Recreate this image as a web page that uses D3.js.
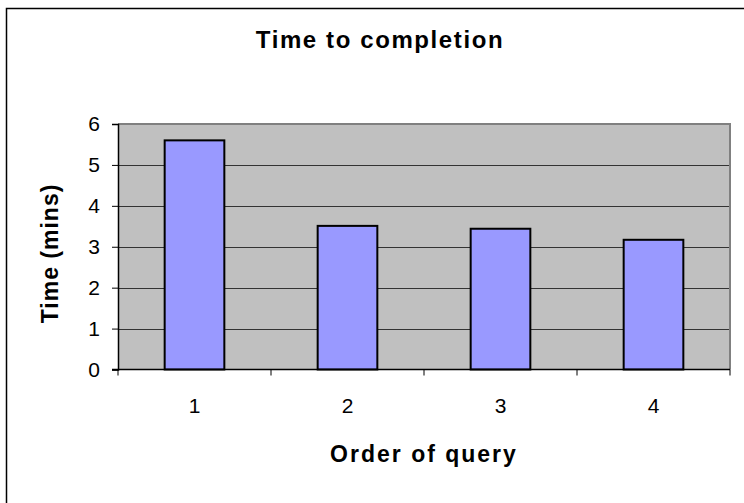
<!DOCTYPE html>
<html>
<head>
<meta charset="utf-8">
<script src="https://cdn.jsdelivr.net/npm/d3@7"></script>
<style>
  html, body { margin: 0; padding: 0; background: #fff; }
  svg { display: block; font-family: "Liberation Sans", Arial, sans-serif; }
</style>
</head>
<body>
<svg id="chart" width="744" height="503"></svg>
<script>
const categories = ["1", "2", "3", "4"];
const values = [5.6, 3.51, 3.44, 3.17];
const yTicks = [0, 1, 2, 3, 4, 5, 6];
const titleText = "Time to completion";
const xTitle = "Order of query";
const yTitle = "Time (mins)";

const svg = d3.select("#chart");
const W = 744, H = 503;
const plot = { left: 118, right: 730, top: 124, bottom: 369.5 };

// outer chart border (extends past right/bottom edge)
svg.append("rect")
  .attr("x", 6.5).attr("y", 8.5)
  .attr("width", W + 10).attr("height", H + 10)
  .attr("fill", "#fff").attr("stroke", "#000").attr("stroke-width", 1.5);

const x = d3.scaleBand().domain(categories)
  .range([plot.left, plot.right]).paddingInner(0.61).paddingOuter(0.305);
const y = d3.scaleLinear().domain([0, 6]).range([plot.bottom, plot.top]);

// plot background
svg.append("rect")
  .attr("x", plot.left).attr("y", plot.top)
  .attr("width", plot.right - plot.left).attr("height", plot.bottom - plot.top)
  .attr("fill", "#C0C0C0");

// gridlines
svg.append("g").selectAll("line").data(yTicks.filter(d => d > 0 && d < 6)).join("line")
  .attr("x1", plot.left).attr("x2", plot.right)
  .attr("y1", d => Math.round(y(d)) + 0.5).attr("y2", d => Math.round(y(d)) + 0.5)
  .attr("stroke", "#333").attr("stroke-width", 1);

// plot border top/right (gray)
svg.append("path")
  .attr("d", `M${plot.left},${plot.top} H${plot.right} V${plot.bottom}`)
  .attr("fill", "none").attr("stroke", "#808080").attr("stroke-width", 2);

// bars
svg.append("g").selectAll("rect").data(values).join("rect")
  .attr("x", (d, i) => x(categories[i]))
  .attr("y", d => y(d))
  .attr("width", x.bandwidth())
  .attr("height", d => y(0) - y(d))
  .attr("fill", "#9999FF")
  .attr("stroke", "#000").attr("stroke-width", 2);

// y axis
const yAxis = d3.axisLeft(y).tickValues(yTicks).tickSize(6).tickPadding(12).tickFormat(d3.format("d"));
const gy = svg.append("g").attr("transform", `translate(${plot.left},0)`).call(yAxis);
gy.select(".domain").attr("stroke", "#000").attr("stroke-width", 1.5);
gy.selectAll(".tick line").attr("stroke", "#000");
gy.selectAll(".tick text").attr("font-size", 21).attr("fill", "#000")
  .attr("font-family", "Liberation Sans, Arial, sans-serif");

// x axis: ticks between categories
const xAxisG = svg.append("g");
xAxisG.append("line")
  .attr("x1", plot.left - 6).attr("x2", plot.right)
  .attr("y1", plot.bottom).attr("y2", plot.bottom)
  .attr("stroke", "#000").attr("stroke-width", 1.5);
const boundaries = categories.map((c, i) => plot.left + x.step() * (i + 1));
xAxisG.selectAll("line.tk").data(boundaries).join("line").attr("class", "tk")
  .attr("x1", d => d).attr("x2", d => d)
  .attr("y1", plot.bottom).attr("y2", plot.bottom + 6)
  .attr("stroke", "#000");
xAxisG.append("line")
  .attr("x1", plot.left).attr("x2", plot.left)
  .attr("y1", plot.bottom).attr("y2", plot.bottom + 6)
  .attr("stroke", "#000");
xAxisG.selectAll("text").data(categories).join("text")
  .attr("x", d => x(d) + x.bandwidth() / 2)
  .attr("y", 412.5)
  .attr("text-anchor", "middle")
  .attr("font-size", 21).attr("fill", "#000")
  .text(d => d);

// titles
svg.append("text").attr("x", 380).attr("y", 47.5).attr("text-anchor", "middle")
  .attr("font-size", 24).attr("font-weight", "bold").attr("letter-spacing", 1.6)
  .text(titleText);
svg.append("text").attr("x", (plot.left + plot.right) / 2).attr("y", 462).attr("text-anchor", "middle")
  .attr("font-size", 23).attr("font-weight", "bold").attr("letter-spacing", 2)
  .text(xTitle);
svg.append("text")
  .attr("transform", `translate(58,${253.5}) rotate(-90)`)
  .attr("text-anchor", "middle")
  .attr("font-size", 23).attr("font-weight", "bold").attr("letter-spacing", 1)
  .text(yTitle);
</script>
</body>
</html>
